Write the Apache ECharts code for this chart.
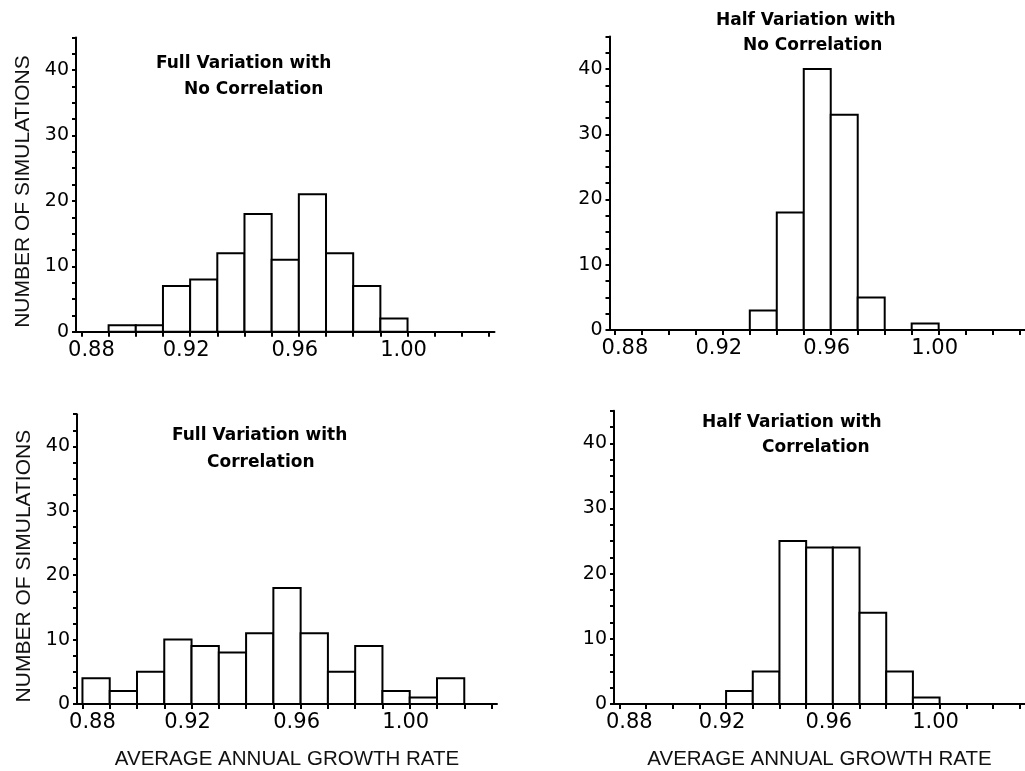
<!DOCTYPE html>
<html>
<head>
<meta charset="utf-8">
<script src="https://cdn.jsdelivr.net/npm/echarts@6/dist/echarts.min.js"></script>
<style>
html,body{margin:0;padding:0;background:#fff;}
#chart{width:1025px;height:771px;}
</style>
</head>
<body>
<div id="chart"></div>
<script>
// Bin lower edges (bin width 0.01)
const binStarts = [0.88, 0.89, 0.90, 0.91, 0.92, 0.93, 0.94, 0.95, 0.96, 0.97, 0.98, 0.99, 1.00, 1.01, 1.02];
const binWidth = 0.01;
// Counts per bin
const fullNoCorr = [0, 1, 1, 7, 8, 12, 18, 11, 21, 12, 7, 2, 0, 0, 0];
const halfNoCorr = [0, 0, 0, 0, 0, 3, 18, 40, 33, 5, 0, 1, 0, 0, 0];
const fullCorr   = [4, 2, 5, 10, 9, 8, 11, 18, 11, 5, 9, 2, 1, 4, 0];
const halfCorr   = [0, 0, 0, 0, 2, 5, 25, 24, 24, 14, 5, 1, 0, 0, 0];
// Tick values and labels
const xTickValues = [0.88, 0.89, 0.90, 0.91, 0.92, 0.93, 0.94, 0.95, 0.96, 0.97, 0.98, 0.99, 1.00, 1.01, 1.02, 1.03];
const xLabelValues = [0.88, 0.92, 0.96, 1.00];
const yTickValues = [0, 2.5, 5, 7.5, 10, 12.5, 15, 17.5, 20, 22.5, 25, 27.5, 30, 32.5, 35, 37.5, 40, 42.5, 45];
const yLabelValues = [0, 10, 20, 30, 40];
// Titles (two lines each)
const titles = [
  ['Full Variation with', 'No Correlation'],
  ['Half Variation with', 'No Correlation'],
  ['Full Variation with', 'Correlation'],
  ['Half Variation with', 'Correlation']
];
const yName = 'NUMBER OF SIMULATIONS';
const xName = 'AVERAGE ANNUAL GROWTH RATE';

const panels = [fullNoCorr, halfNoCorr, fullCorr, halfCorr];
const grids = [
  {left: 76, top: 37.4, width: 418.5, height: 294.3},
  {left: 609.5, top: 36.4, width: 419.5, height: 293.6},
  {left: 77, top: 414.2, width: 420, height: 292.5},
  {left: 614, top: 410.7, width: 421, height: 293.3}
];
const titlePos = [
  [[156, 55], [184, 81]],
  [[716, 12], [743, 37]],
  [[172, 427], [207, 454]],
  [[702, 414], [762, 439]]
];

const black = '#000';
const tickFont = 'DejaVu Sans';

const xAxes = grids.map((g, i) => ({
  type: 'value', gridIndex: i, min: 0.878, max: 1.032,
  axisLine: {show: true, onZero: false, lineStyle: {color: black, width: 2}},
  axisTick: {show: true, customValues: xTickValues, length: 5, lineStyle: {color: black, width: 2}},
  axisLabel: {show: true, customValues: xLabelValues,
    formatter: v => (Math.abs(v - 0.88) < 1e-9 ? '{first|' + v.toFixed(2) + '}' : '{other|' + v.toFixed(2) + '}'),
    rich: {
      first: {fontFamily: tickFont, fontSize: 21, color: black, padding: [0, 0, 0, 20]},
      other: {fontFamily: tickFont, fontSize: 21, color: black, padding: [0, 8, 0, 0]}
    },
    color: black, fontFamily: tickFont, fontSize: 21, margin: 8},
  splitLine: {show: false},
  name: i >= 2 ? xName : '',
  nameLocation: 'middle', nameGap: 45,
  nameTextStyle: {color: '#111', fontFamily: 'Liberation Sans', fontSize: 20.5}
}));
const yAxes = grids.map((g, i) => ({
  type: 'value', gridIndex: i, min: 0, max: 45,
  axisLine: {show: true, lineStyle: {color: black, width: 2}},
  axisTick: {show: true, customValues: yTickValues, length: 4, lineStyle: {color: black, width: 2}},
  axisLabel: {show: true, customValues: yLabelValues, color: black, fontFamily: tickFont, fontSize: 19, margin: 7},
  splitLine: {show: false},
  name: (i % 2 === 0) ? yName : '',
  nameLocation: 'middle', nameGap: 42,
  nameTextStyle: {color: '#111', fontFamily: 'Liberation Sans', fontSize: 21, padding: [0, 14, 0, 0]}
}));

const series = panels.map((counts, i) => ({
  type: 'custom', xAxisIndex: i, yAxisIndex: i,
  data: binStarts.map((s, k) => [s, s + binWidth, counts[k]]).filter(d => d[2] > 0),
  encode: {x: [0, 1], y: 2},
  renderItem: function (params, api) {
    const p0 = api.coord([api.value(0), api.value(2)]);
    const p1 = api.coord([api.value(1), 0]);
    return {
      type: 'rect',
      shape: {x: p0[0], y: p0[1], width: p1[0] - p0[0], height: p1[1] - p0[1]},
      style: {fill: '#fff', stroke: black, lineWidth: 2}
    };
  }
}));

const titleList = [];
titles.forEach((t, i) => {
  t.forEach((line, j) => {
    titleList.push({
      text: line, left: titlePos[i][j][0], top: titlePos[i][j][1], padding: 0,
      textStyle: {color: black, fontFamily: 'DejaVu Sans', fontWeight: 'bold', fontSize: 17}
    });
  });
});

const chart = echarts.init(document.getElementById('chart'), null, {renderer: 'canvas'});
chart.setOption({
  backgroundColor: '#fff',
  animation: false,
  title: titleList,
  grid: grids,
  xAxis: xAxes,
  yAxis: yAxes,
  series: series
});
</script>
</body>
</html>
